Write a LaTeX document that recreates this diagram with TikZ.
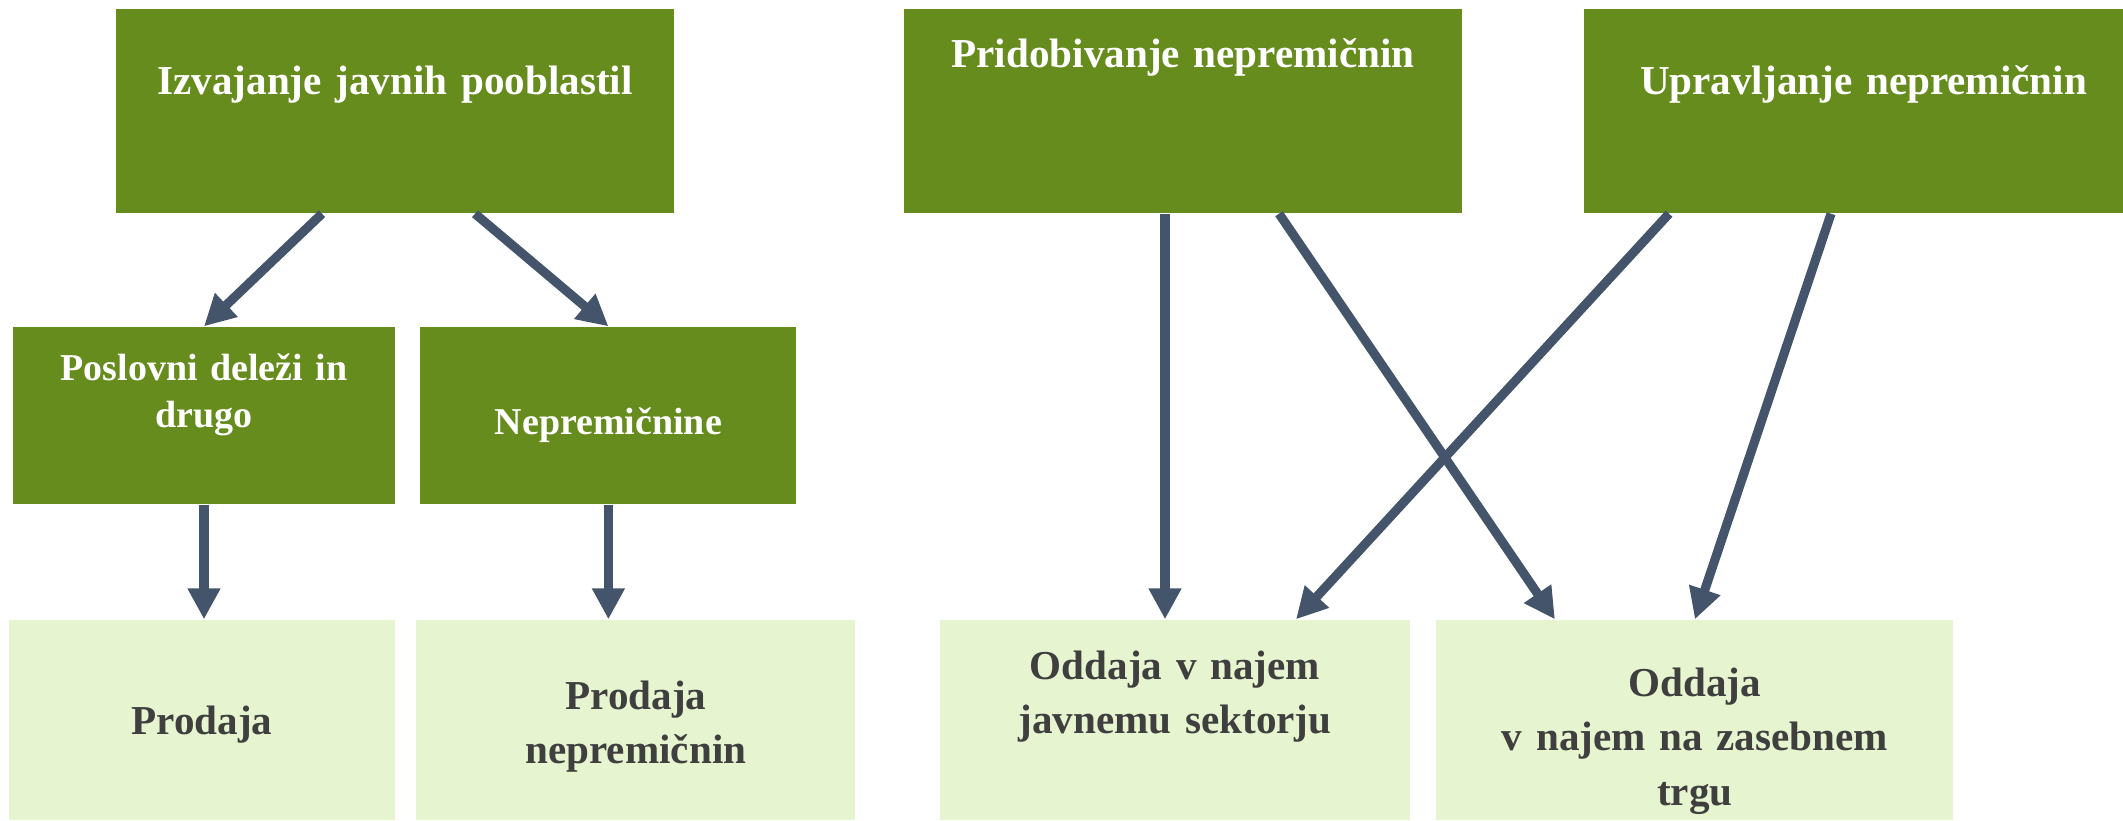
\documentclass[tikz,border=0pt]{standalone}
\usepackage{fontspec}
\setmainfont{Liberation Serif}
\usepackage{tikz}
\usetikzlibrary{arrows.meta, positioning}
\definecolor{leafdark}{HTML}{678C1E}
\definecolor{leaflight}{HTML}{E6F5CF}
\definecolor{slate}{HTML}{44546A}
\definecolor{inkgray}{HTML}{3F3F3F}

\begin{document}
\begin{tikzpicture}[
    every node/.style={font=\bfseries},
    darkbox/.style={
        rectangle,
        fill=leafdark,
        inner sep=0pt,
        minimum height=2.04cm
    },
    midbox/.style={darkbox, minimum height=1.77cm},
    lightbox/.style={
        rectangle,
        fill=leaflight,
        inner sep=0pt,
        minimum height=2cm
    },
    toptext/.style={anchor=base, inner sep=0pt, text=white, align=center, text width=5.2cm,
        font=\bfseries\fontsize{11.7}{15}\selectfont},
    midtext/.style={toptext, text width=3.4cm, font=\bfseries\fontsize{10.8}{13.3}\selectfont},
    lowtext/.style={anchor=base, inner sep=0pt, text=inkgray, align=center, text width=4.4cm,
        font=\bfseries\fontsize{11.7}{15.5}\selectfont},
    arrow/.style={line width=2.6pt, -{Triangle[length=0.31cm, width=0.31cm]}, color=slate}
]
\useasboundingbox (0,0) rectangle (21.23,-8.2);

% boxes
\node[darkbox, minimum width=5.58cm] (izv) at (3.95,-1.11) {};
\node[darkbox, minimum width=5.58cm] (prid) at (11.83,-1.11) {};
\node[darkbox, minimum width=5.39cm] (upr) at (18.535,-1.11) {};
\node[midbox, minimum width=3.82cm] (pos) at (2.04,-4.155) {};
\node[midbox, minimum width=3.76cm, right=0.24cm of pos] (nep) {};
\node[lightbox, minimum width=3.86cm] (pro1) at (2.02,-7.2) {};
\node[lightbox, minimum width=4.39cm, right=0.2cm of pro1] (pro2) {};
\node[lightbox, minimum width=4.70cm] (odj) at (11.75,-7.2) {};
\node[lightbox, minimum width=5.17cm, right=0.25cm of odj] (odz) {};

% texts
\node[toptext] (izvT) at ([yshift=-0.86cm]izv.north) {Izvajanje javnih pooblastil};
\node[toptext] (pridT) at ([yshift=-0.59cm]prid.north) {Pridobivanje nepremičnin};
\node[toptext] (uprT) at ([xshift=0.1cm, yshift=-0.86cm]upr.north) {Upravljanje nepremičnin};
\node[midtext] (posT) at ([yshift=-0.54cm]pos.north) {Poslovni deleži in\\drugo};
\node[midtext] (nepT) at ([yshift=-1.08cm]nep.north) {Nepremičnine};
\node[lowtext] (pro1T) at ([yshift=-1.15cm]pro1.north) {Prodaja};
\node[lowtext] (pro2T) at ([yshift=-0.90cm]pro2.north) {Prodaja\\nepremičnin};
\node[lowtext] (odjT) at ([yshift=-0.60cm]odj.north) {Oddaja v najem\\javnemu sektorju};
\node[lowtext] (odzT) at ([yshift=-0.77cm]odz.north) {Oddaja\\v najem na zasebnem\\trgu};

% arrows
\draw[arrow] ([xshift=-0.73cm]izv.south) -- (pos.north);
\draw[arrow] ([xshift=0.80cm]izv.south) -- (nep.north);
\draw[arrow] (pos.south) -- (pos.south |- pro1.north);
\draw[arrow] (nep.south) -- (nep.south |- pro2.north);
\draw[arrow] ([xshift=-0.18cm]prid.south) -- ([xshift=-0.18cm]prid.south |- odj.north);
\draw[arrow] ([xshift=0.96cm]prid.south) -- ([xshift=-1.40cm]odz.north);
\draw[arrow] ([xshift=-1.845cm]upr.south) -- ([xshift=1.21cm]odj.north);
\draw[arrow] ([xshift=-0.225cm]upr.south) -- (odz.north);

\end{tikzpicture}
\end{document}
